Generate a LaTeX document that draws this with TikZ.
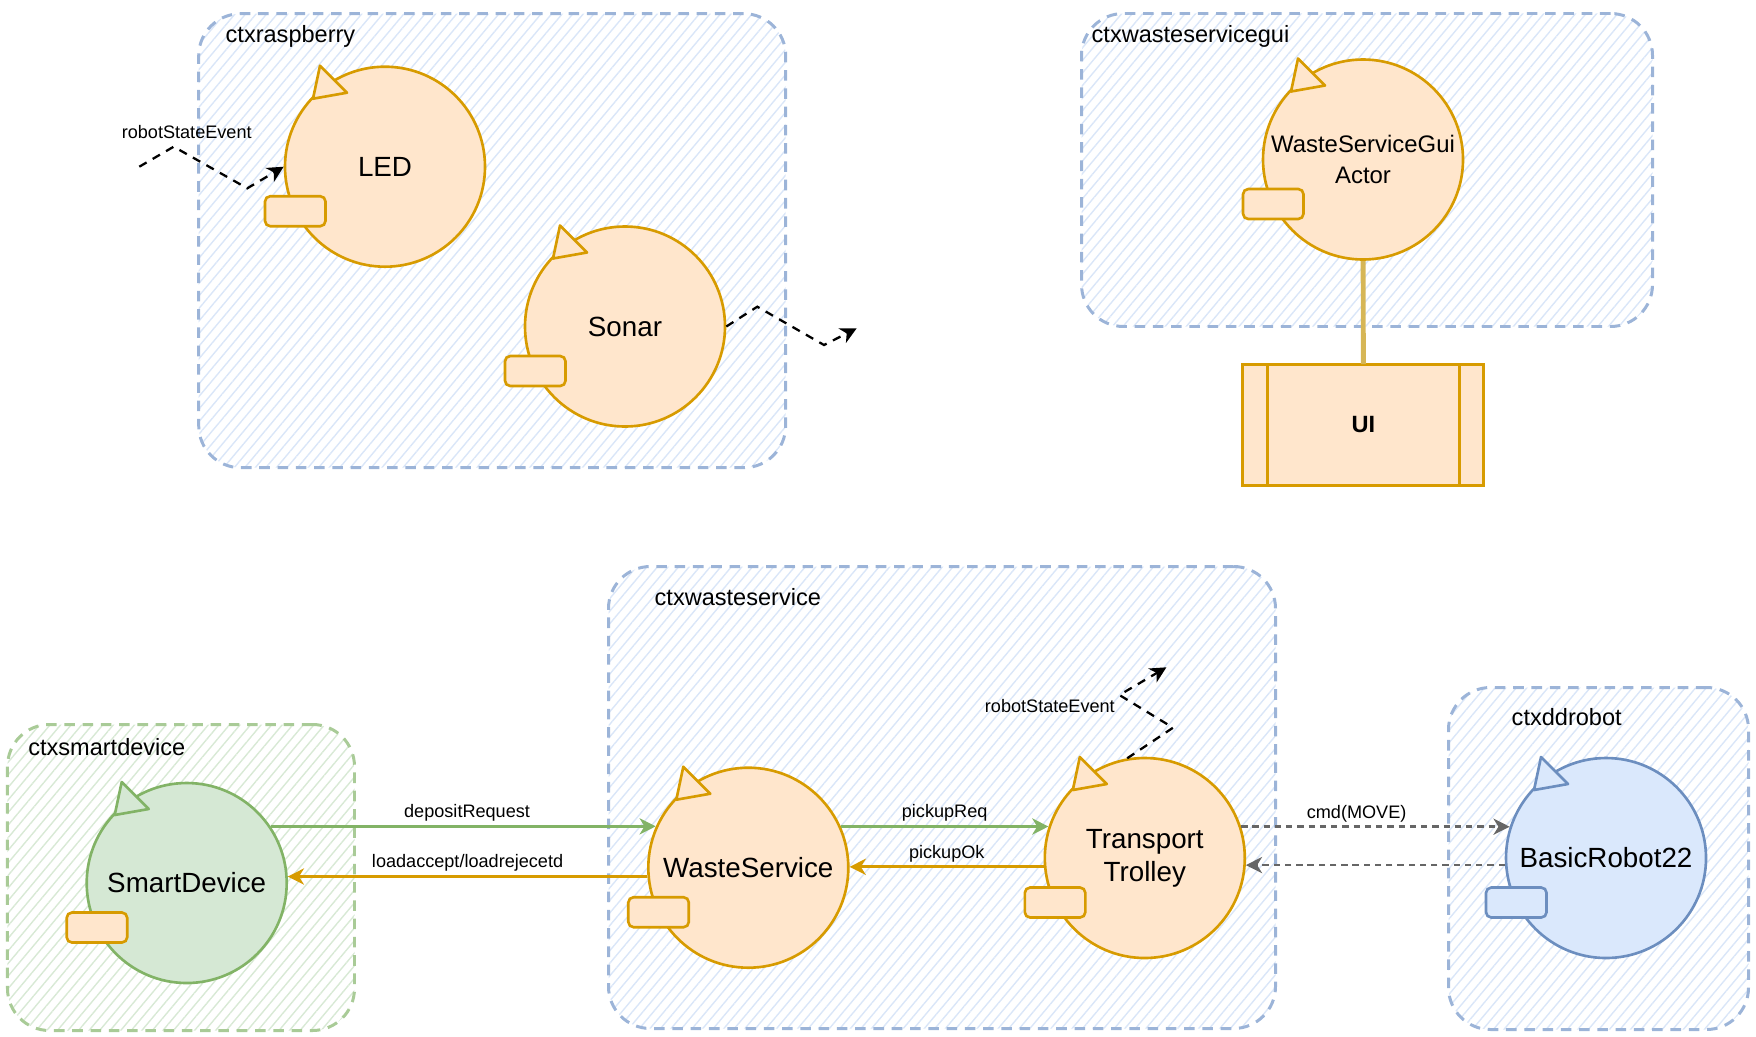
\documentclass[tikz,border=0pt]{standalone}
\usepackage{fontspec}
\setmainfont{Liberation Sans}
\usetikzlibrary{arrows.meta,patterns.meta}
\definecolor{orF}{HTML}{FFE6CC}
\definecolor{orD}{HTML}{D79B00}
\definecolor{grF}{HTML}{D5E8D4}
\definecolor{grD}{HTML}{82B366}
\definecolor{blF}{HTML}{DAE8FC}
\definecolor{blD}{HTML}{6C8EBF}
\definecolor{ctxB}{HTML}{9CB4D8}
\definecolor{ctxG}{HTML}{A9CB97}
\definecolor{hatchB}{HTML}{DAE6F8}
\definecolor{hatchG}{HTML}{D8E9D5}
\definecolor{uiline}{HTML}{D6B656}
\definecolor{cmdgray}{HTML}{666666}

\begin{document}
\begin{tikzpicture}[>={Stealth[length=4.6pt,width=4.6pt,inset=1.4pt]},
    ctx/.style={draw=ctxB, line width=0.85pt, dash pattern=on 3pt off 2.2pt, rounded corners=0.42cm, pattern={Lines[angle=50,distance=2.3pt,line width=0.4pt]}, pattern color=hatchB, anchor=north west, inner sep=0},
    ctxlbl/.style={anchor=west, inner sep=0, font=\fontsize{6.7}{8}\selectfont},
    actor/.style={circle, draw=orD, fill=orF, line width=0.75pt, minimum size=2cm, inner sep=0, align=center, font=\fontsize{7.9}{9.3}\selectfont},
    msg/.style={font=\fontsize{5.15}{6}\selectfont, inner sep=1pt, text=black},
    evt/.style={->, line width=0.65pt, dash pattern=on 2.4pt off 2pt},
    flow/.style={->, line width=0.8pt},
    cmdflow/.style={->, cmdgray, line width=0.75pt, dash pattern=on 1.8pt off 1.4pt}]
    \useasboundingbox (0,0) rectangle (17.56,-10.36);

    \node[ctx, minimum width=5.87cm, minimum height=4.54cm] (rasp) at (1.98,-0.13) {};
    \node[ctx, minimum width=5.71cm, minimum height=3.13cm] (guictx) at (10.80,-0.12) {};
    \node[ctx, draw=ctxG, pattern color=hatchG, minimum width=3.47cm, minimum height=3.06cm] (sdctx) at (0.06,-7.23) {};
    \node[ctx, minimum width=6.67cm, minimum height=4.62cm] (wsctx) at (6.07,-5.65) {};
    \node[ctx, minimum width=3.00cm, minimum height=3.42cm] (brctx) at (14.47,-6.86) {};
    \node[ctxlbl] (rasplbl) at ([xshift=0.27cm,yshift=-0.237cm]rasp.north west) {ctxraspberry};
    \node[ctxlbl] (guictxlbl) at ([xshift=0.11cm,yshift=-0.247cm]guictx.north west) {ctxwasteservicegui};
    \node[ctxlbl] (sdctxlbl) at ([xshift=0.216cm,yshift=-0.237cm]sdctx.north west) {ctxsmartdevice};
    \node[ctxlbl] (wsctxlbl) at ([xshift=0.47cm,yshift=-0.317cm]wsctx.north west) {ctxwasteservice};
    \node[ctxlbl] (brctxlbl) at ([xshift=0.64cm,yshift=-0.307cm]brctx.north west) {ctxddrobot};

    \node[actor] (led) at (3.85,-1.667) {LED};
    \node[actor] (sonar) at (6.25,-3.265) {Sonar};
    \node[actor, font=\fontsize{6.8}{8.7}\selectfont] (gui) at (13.63,-1.595) {WasteServiceGui\\Actor};
    \node[actor, draw=grD, fill=grF] (sd) at (1.867,-8.83) {SmartDevice};
    \node[actor] (ws) at (7.483,-8.677) {WasteService};
    \node[actor] (tt) at (11.448,-8.58) {Transport\\Trolley};
    \node[actor, draw=blD, fill=blF] (br) at (16.06,-8.58) {BasicRobot22};
    \foreach \a/\f/\d/\rf/\rd in {led/orF/orD/orF/orD, sonar/orF/orD/orF/orD, gui/orF/orD/orF/orD, sd/grF/grD/orF/orD, ws/orF/orD/orF/orD, tt/orF/orD/orF/orD, br/blF/blD/blF/blD} {
        \draw[draw=\d, fill=\f, line width=0.75pt, line join=round] ([shift={(-0.65,1.01)}]\a.center) -- ([shift={(-0.38,0.74)}]\a.center) -- ([shift={(-0.72,0.68)}]\a.center) -- cycle;
        \draw[draw=\rd, fill=\rf, line width=0.75pt, rounded corners=1.5pt] ([shift={(-1.20,-0.295)}]\a.center) rectangle ([shift={(-0.595,-0.595)}]\a.center);
    }

    \node[draw=orD, fill=orF, line width=0.85pt, outer sep=0, minimum width=2.41cm, minimum height=1.21cm, inner sep=0, font=\bfseries\fontsize{6.7}{8}\selectfont] (ui) at (13.634,-4.247) {UI};
    \draw[orD, line width=0.85pt] ([xshift=0.245cm]ui.north west) -- ([xshift=0.245cm]ui.south west) ([xshift=-0.245cm]ui.north east) -- ([xshift=-0.245cm]ui.south east);
    \draw[uiline, line width=1.4pt] (gui) -- (ui);

    \draw[flow, grD] (sd.34) -- node[msg, above, pos=0.51] (deplbl) {depositRequest} (sd.34 -| ws.156);
    \draw[flow, orD] (ws.185) -- node[msg, above] (loadlbl) {loadaccept/loadrejecetd} (ws.185 -| sd.4);
    \draw[flow, grD] (ws.24) -- node[msg, above] (reqlbl) {pickupReq} (ws.24 -| tt.162);
    \draw[flow, orD] (tt.185) -- node[msg, above] (oklbl) {pickupOk} (tt.185 -| ws.1);
    \draw[cmdflow] (tt.18) -- node[msg, above, pos=0.43] (cmdlbl) {cmd(MOVE)} (tt.18 -| br.162);
    \draw[cmdflow] (br.184) -- (br.184 -| tt.356);

    \coordinate (ledsrc) at (1.393,-1.667);
    \coordinate (sonardst) at (8.567,-3.283);
    \coordinate (ttdst) at (11.664,-6.673);
    \draw[evt] (ledsrc) -- (1.737,-1.467) node[msg, anchor=south, xshift=0.13cm, yshift=1pt] (ledevtlbl) {robotStateEvent} -- (2.473,-1.883) -- (led.west);
    \draw[evt] (sonar.east) -- (7.573,-3.067) -- (8.24,-3.45) -- (sonardst);
    \draw[evt] (tt.100) -- (11.73,-7.277) -- (11.194,-6.95) node[msg, anchor=east, yshift=-0.107cm] (ttevtlbl) {robotStateEvent} -- (ttdst);
\end{tikzpicture}
\end{document}
